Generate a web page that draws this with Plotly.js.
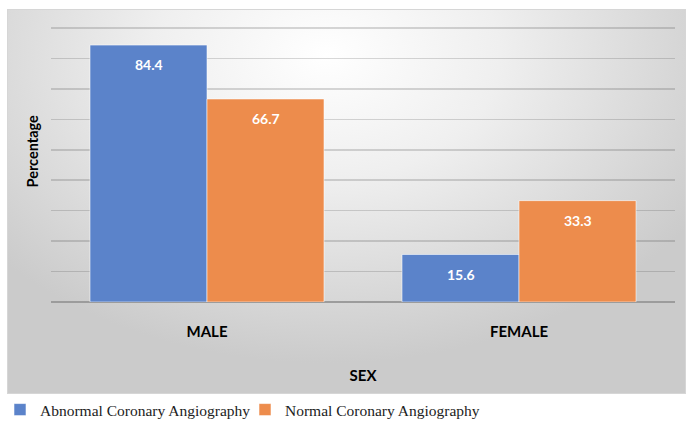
<!DOCTYPE html>
<html>
<head>
<meta charset="utf-8">
<script src="https://cdn.plot.ly/plotly-3.0.1.min.js"></script>
<style>
html,body{margin:0;padding:0;background:#fff;}
#chart{width:686px;height:421px;}
</style>
</head>
<body>
<div id="chart"></div>
<script>
var categories = ['MALE', 'FEMALE'];
var abnormal = [84.4, 15.6];
var normal = [66.7, 33.3];
var seriesNames = ['Abnormal Coronary Angiography', 'Normal Coronary Angiography'];
var xTitle = 'SEX';
var yTitle = 'Percentage';

var blue = '#5b83ca';
var orange = '#ed8c4c';
var font = 'Lato, Carlito, sans-serif';

var bg = 'data:image/svg+xml;utf8,' + encodeURIComponent(
  '<svg xmlns="http://www.w3.org/2000/svg" width="679" height="385" viewBox="0 0 679 385" preserveAspectRatio="none">' +
  '<defs><radialGradient id="g" cx="0.47" cy="0.12" r="0.8" gradientTransform="translate(0.47 0.12) scale(0.8 1) translate(-0.47 -0.12)">' +
  '<stop offset="0" stop-color="#ffffff"/><stop offset="0.4" stop-color="#efefef"/><stop offset="1" stop-color="#cbcbcb"/></radialGradient></defs>' +
  '<rect x="0" y="0" width="679" height="385" fill="url(#g)"/>' +
  '<rect x="0.5" y="0.5" width="678" height="384" fill="none" stroke="#d6d6d6" stroke-width="1"/></svg>');

var traces = [
  {type: 'bar', name: seriesNames[0], x: categories, y: abnormal,
   marker: {color: blue, line: {color: 'rgba(255,255,255,0.55)', width: 1}}, hoverinfo: 'none'},
  {type: 'bar', name: seriesNames[1], x: categories, y: normal,
   marker: {color: orange, line: {color: 'rgba(255,255,255,0.55)', width: 1}}, hoverinfo: 'none'}
];

var annotations = [];
[abnormal, normal].forEach(function(vals, si) {
  vals.forEach(function(v, ci) {
    annotations.push({
      x: categories[ci], y: v, xref: 'x', yref: 'y',
      text: '<b>' + v.toFixed(1) + '</b>', showarrow: false,
      xshift: si === 0 ? -58.5 : 58.5, yanchor: 'top', yshift: -9,
      font: {family: font, size: 14, color: '#ffffff'}
    });
  });
});
annotations.push({
  xref: 'paper', yref: 'paper', x: 0, y: 0.5, xanchor: 'center', yanchor: 'middle',
  xshift: -19, yshift: 12,
  text: '<b>' + yTitle + '</b>', textangle: -90, showarrow: false,
  font: {family: font, size: 14.5, color: '#000'}
});

var layout = {
  width: 686, height: 421,
  margin: {l: 51, r: 11, t: 25, b: 119, pad: 0, autoexpand: false},
  paper_bgcolor: 'rgba(0,0,0,0)',
  plot_bgcolor: 'rgba(0,0,0,0)',
  barmode: 'group', bargap: 0.25, bargroupgap: 0,
  images: [{source: bg, xref: 'paper', yref: 'paper', x: -44/624, y: 293/277,
            sizex: 679/624, sizey: 385/277, xanchor: 'left', yanchor: 'top',
            sizing: 'stretch', layer: 'below'}],
  xaxis: {
    type: 'category', showgrid: false, showline: false, zeroline: false,
    tickvals: categories, ticktext: categories.map(function(c){ return '<b>' + c + '</b>'; }),
    ticks: 'outside', ticklen: 16, tickcolor: 'rgba(0,0,0,0)',
    tickfont: {family: font, size: 15, color: '#000'},
    title: {text: '<b>' + xTitle + '</b>', font: {family: font, size: 15, color: '#000'}, standoff: 31},
    automargin: false
  },
  yaxis: {
    range: [0, 91], dtick: 10, showticklabels: false, ticks: '',
    showgrid: true, gridcolor: 'rgba(60,60,60,0.2)', gridwidth: 1.5,
    zeroline: true, zerolinecolor: '#9c9c9c', zerolinewidth: 1.5,
    showline: false, automargin: false
  },
  showlegend: true,
  legend: {orientation: 'h', xref: 'container', yref: 'container', x: 0, xanchor: 'left', y: 11/421, yanchor: 'middle',
           entrywidth: 200, entrywidthmode: 'pixels',
           font: {family: '"Liberation Serif", "DejaVu Serif", serif', size: 15.5, color: '#222'},
           bgcolor: 'rgba(0,0,0,0)', traceorder: 'normal'},
  annotations: annotations
};

Plotly.newPlot('chart', traces, layout, {displayModeBar: false, staticPlot: true});
</script>
</body>
</html>
